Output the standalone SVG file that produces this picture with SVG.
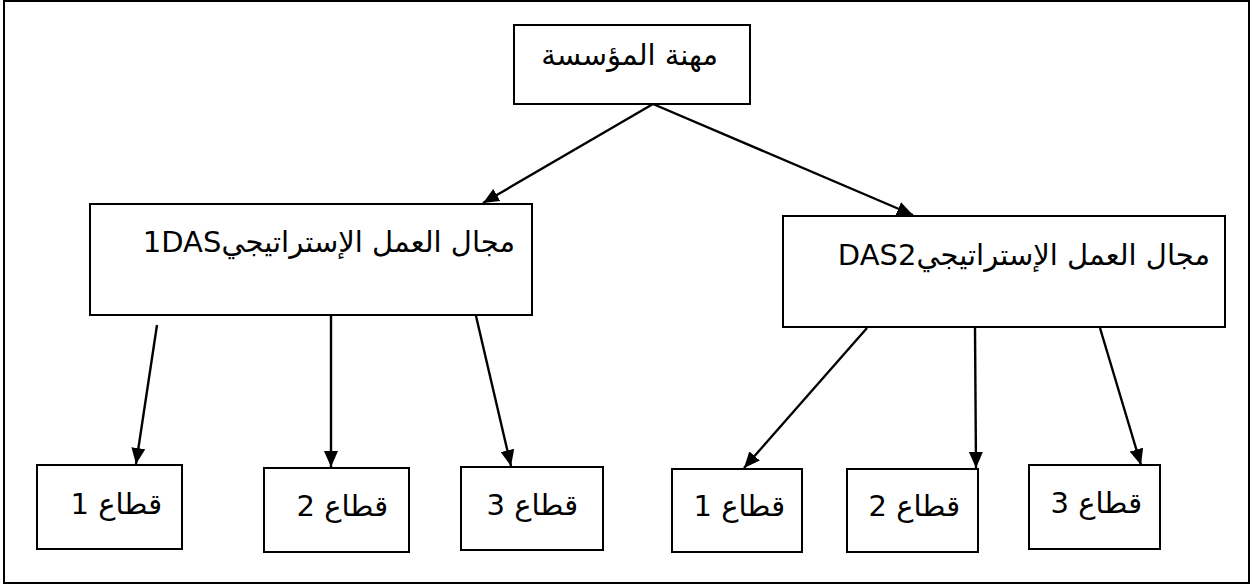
<svg xmlns="http://www.w3.org/2000/svg" width="1252" height="586" viewBox="0 0 1252 586">
  <style>
    .box { fill: #ffffff; stroke: #000000; stroke-width: 2; }
    .frame { fill: none; stroke: #000000; stroke-width: 2; }
    .edge { stroke: #000000; stroke-width: 2.4; fill: none; marker-end: url(#arrow); }
    .lbl { font-family: "DejaVu Sans", "Noto Sans", sans-serif; font-size: 29px; fill: #000000; direction: rtl; }
  </style>
  <defs>
    <marker id="arrow" viewBox="0 0 16 14" refX="16" refY="7" markerWidth="16" markerHeight="14" markerUnits="userSpaceOnUse" orient="auto">
      <path d="M0,0 L16,7 L0,14 Z" fill="#000000"/>
    </marker>
  </defs>

  <rect class="frame" x="4" y="1" width="1245" height="582"/>

  <g id="connectors">
    <line class="edge" x1="653" y1="104" x2="483" y2="203"/>
    <line class="edge" x1="653" y1="104" x2="913" y2="215"/>
    <line class="edge" x1="157" y1="325" x2="136" y2="464"/>
    <line class="edge" x1="331" y1="316" x2="331" y2="467"/>
    <line class="edge" x1="476" y1="316" x2="511" y2="466"/>
    <line class="edge" x1="867" y1="328" x2="744" y2="468"/>
    <line class="edge" x1="975" y1="328" x2="976" y2="468"/>
    <line class="edge" x1="1100" y1="328" x2="1141" y2="465"/>
  </g>

  <g id="node-profession">
    <rect class="box" x="514" y="25" width="236" height="79"/>
    <text class="lbl" x="718" y="65" text-anchor="start">مهنة المؤسسة</text>
  </g>

  <g id="node-das1">
    <rect class="box" x="90" y="204" width="442" height="111"/>
    <text class="lbl" x="515" y="252" text-anchor="start">مجال العمل الإستراتيجي1DAS</text>
  </g>

  <g id="node-das2">
    <rect class="box" x="783" y="216" width="442" height="111"/>
    <text class="lbl" x="1210" y="265" text-anchor="start">مجال العمل الإستراتيجيDAS2</text>
  </g>

  <g id="node-das1-s1">
    <rect class="box" x="37" y="465" width="145" height="84"/>
    <text class="lbl" x="162" y="514" text-anchor="start">قطاع 1</text>
  </g>
  <g id="node-das1-s2">
    <rect class="box" x="264" y="468" width="145" height="84"/>
    <text class="lbl" x="388" y="516" text-anchor="start">قطاع 2</text>
  </g>
  <g id="node-das1-s3">
    <rect class="box" x="461" y="467" width="142" height="83"/>
    <text class="lbl" x="578" y="515" text-anchor="start">قطاع 3</text>
  </g>

  <g id="node-das2-s1">
    <rect class="box" x="672" y="469" width="130" height="83"/>
    <text class="lbl" x="785" y="516" text-anchor="start">قطاع 1</text>
  </g>
  <g id="node-das2-s2">
    <rect class="box" x="847" y="469" width="131" height="83"/>
    <text class="lbl" x="960" y="516" text-anchor="start">قطاع 2</text>
  </g>
  <g id="node-das2-s3">
    <rect class="box" x="1029" y="465" width="131" height="84"/>
    <text class="lbl" x="1142" y="513" text-anchor="start">قطاع 3</text>
  </g>
</svg>
